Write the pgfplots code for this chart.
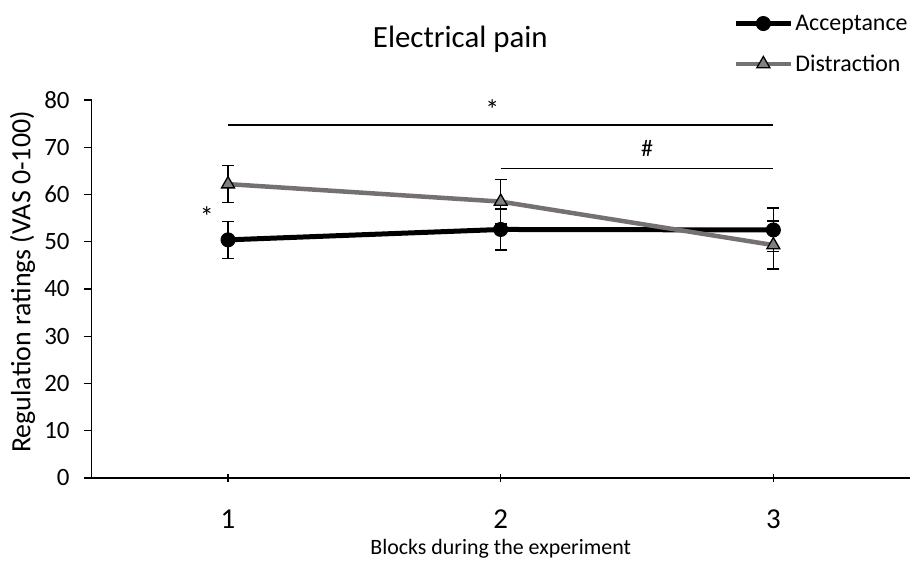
\documentclass[border=0pt]{standalone}
\usepackage{fontspec}
\setmainfont{Carlito}
\usepackage{pgfplots}
\pgfplotsset{compat=1.18}
\definecolor{distline}{RGB}{118,113,113}
\definecolor{distfill}{RGB}{128,128,128}
\begin{document}
\begin{tikzpicture}
\begin{axis}[
  width=818bp, height=378bp, scale only axis,
  xmin=0.5, xmax=3.5, ymin=0, ymax=80,
  axis x line=bottom, axis y line=left,
  axis line style={-, line width=1.3bp, black},
  xtick={1,2,3}, ytick={0,10,...,80},
  major tick length=8bp,
  x tick style={line width=1.3bp, black},
  y tick style={line width=1.3bp, black},
  xtick align=center, ytick align=outside,
  /pgf/number format/assume math mode=true,
  xticklabel style={font=\fontsize{29}{32}\selectfont, anchor=base, yshift=-47bp},
  yticklabel style={font=\fontsize{25}{28}\selectfont, anchor=east, inner sep=0pt, xshift=-14bp},
  xlabel={Blocks during the experiment},
  ylabel={Regulation ratings (VAS 0-100)},
  x label style={font=\fontsize{22}{26}\selectfont, at={(rel axis cs:0.5,0)}, anchor=base, yshift=-77bp},
  y label style={font=\fontsize{28}{32}\selectfont, at={(rel axis cs:-0.075,0.5185)}, anchor=base},
  clip=false,
  legend style={draw=none, fill=none, at={(rel axis cs:1,1.2304)}, anchor=north east,
    font=\fontsize{24}{28}\selectfont, row sep=19bp, inner sep=0pt},
  legend cell align=left,
  legend image code/.code={\draw[#1, mark repeat=2, mark phase=2] plot coordinates {(0bp,0bp) (27.5bp,0bp) (55bp,0bp)};},
]
\addplot[black, line width=5bp, mark=*, mark size=7bp, mark options={solid, fill=black, line width=1bp},
  error bars/.cd, y dir=both, y explicit,
  error bar style={black, line width=1.5bp},
  error mark options={rotate=90, mark size=6bp, black, line width=1.5bp}]
  coordinates {(1,50.4) +- (0,3.9) (2,52.6) +- (0,4.3) (3,52.5) +- (0,4.6)};
\addlegendentry{Acceptance}
\addplot[distline, line width=4.5bp, mark=triangle*, mark size=7.5bp, mark options={solid, fill=distfill, draw=black, line width=1.3bp},
  error bars/.cd, y dir=both, y explicit,
  error bar style={black, line width=1.5bp},
  error mark options={rotate=90, mark size=6bp, black, line width=1.5bp}]
  coordinates {(1,62.2) +- (0,3.9) (2,58.5) +- (0,4.7) (3,49.3) +- (0,5.1)};
\addlegendentry{Distraction}
\addplot[black, line width=1.8bp, forget plot] coordinates {(1,74.7) (3,74.7)};
\addplot[black, line width=1.8bp, forget plot] coordinates {(2,65.5) (3,65.5)};
\node[anchor=base, font=\fontsize{28}{30}\selectfont] at (axis cs:1.969,75.8) {*};
\node[anchor=base, font=\fontsize{24}{26}\selectfont] at (axis cs:2.537,68.1) {\#};
\node[anchor=base, font=\fontsize{28}{30}\selectfont] at (axis cs:0.922,53.3) {*};
\node[anchor=base, font=\fontsize{31}{36}\selectfont] at (axis cs:1.852,91.07) {Electrical pain};
\coordinate (bbSW) at (rel axis cs:-0.1121,-0.2487);
\coordinate (bbNE) at (rel axis cs:1.0004,1.2646);
\end{axis}
\pgfresetboundingbox
\path[use as bounding box] (bbSW) rectangle (bbNE);
\end{tikzpicture}
\end{document}
